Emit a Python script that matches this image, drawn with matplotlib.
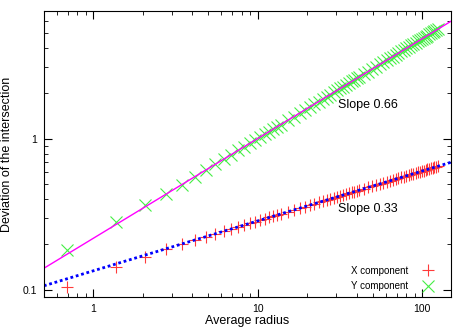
import numpy as np
import matplotlib
matplotlib.use("Agg")
import matplotlib.pyplot as plt
from matplotlib.ticker import LogLocator, NullFormatter, FixedLocator, FixedFormatter

plt.rcParams['font.family'] = ['Liberation Sans', 'DejaVu Sans']

# average radius of each sample
radius = [0.69, 1.38, 2.07, 2.76, 3.45, 4.14, 4.83, 5.52, 6.21, 6.90,
          7.59, 8.28, 8.97, 9.66, 10.35, 11.04, 11.73, 12.42, 13.11, 13.80,
          15.18, 16.56, 17.94, 19.32, 20.70, 22.08, 23.46, 24.84, 26.22, 27.60,
          28.98, 30.36, 31.74, 33.12, 34.50, 35.88, 37.26, 38.64, 40.02, 41.40,
          44.16, 46.92, 49.68, 52.44, 55.20, 57.96, 60.72, 63.48, 66.24, 69.00,
          71.76, 74.52, 77.28, 80.04, 82.80, 85.56, 88.32, 91.08, 93.84, 96.60,
          99.36, 102.12, 104.88, 107.64, 110.40, 113.16, 115.92, 118.68, 121.44, 124.20]

x_dev = [0.105, 0.143, 0.166, 0.187, 0.202, 0.214, 0.225, 0.236, 0.245, 0.254,
         0.262, 0.269, 0.276, 0.283, 0.290, 0.296, 0.302, 0.308, 0.313, 0.319,
         0.329, 0.338, 0.348, 0.356, 0.364, 0.372, 0.380, 0.387, 0.394, 0.401,
         0.407, 0.413, 0.420, 0.426, 0.431, 0.437, 0.442, 0.448, 0.453, 0.458,
         0.468, 0.477, 0.486, 0.495, 0.504, 0.512, 0.520, 0.527, 0.535, 0.542,
         0.549, 0.556, 0.563, 0.569, 0.576, 0.582, 0.588, 0.594, 0.600, 0.606,
         0.611, 0.617, 0.622, 0.628, 0.633, 0.638, 0.643, 0.648, 0.653, 0.658]

y_dev = [0.183, 0.280, 0.365, 0.430, 0.498, 0.562, 0.622, 0.679, 0.734, 0.787,
         0.838, 0.888, 0.936, 0.983, 1.029, 1.073, 1.117, 1.160, 1.202, 1.244,
         1.324, 1.403, 1.479, 1.553, 1.626, 1.696, 1.765, 1.833, 1.900, 1.965,
         2.030, 2.093, 2.155, 2.216, 2.277, 2.337, 2.396, 2.454, 2.511, 2.568,
         2.680, 2.790, 2.896, 3.001, 3.105, 3.206, 3.306, 3.406, 3.503, 3.598,
         3.693, 3.786, 3.877, 3.968, 4.057, 4.146, 4.235, 4.322, 4.407, 4.491,
         4.576, 4.660, 4.743, 4.826, 4.906, 4.988, 5.066, 5.145, 5.224, 5.302]

# power-law fits: prefactor, slope
fit_x = (0.134, 0.33)
fit_y = (0.22, 0.66)

fig = plt.figure(figsize=(4.67, 3.27), dpi=100)
ax = fig.add_axes([0.094, 0.092, 0.872, 0.874])

ax.plot(radius, x_dev, linestyle='none', marker='+', color='#ff3a3a',
        markersize=8, markeredgewidth=0.8, label='X component')
ax.plot(radius, y_dev, linestyle='none', marker='x', color='#44ee44',
        markersize=8, markeredgewidth=0.8, label='Y component')

xx = np.logspace(np.log10(0.5), np.log10(150), 200)
ax.plot(xx, fit_y[0] * xx ** fit_y[1], color='#ff00ff', lw=1.0)
ax.plot(xx, fit_x[0] * xx ** fit_x[1], color='#0000ff', lw=2.0, linestyle=(0, (1, 1)))

ax.set_xscale('log')
ax.set_yscale('log')
ax.set_xlim(0.5, 150)
ax.set_ylim(0.09, 7)

ax.xaxis.set_major_locator(FixedLocator([1, 10, 100]))
ax.xaxis.set_major_formatter(FixedFormatter(['1', '10', '100']))
ax.yaxis.set_major_locator(FixedLocator([0.1, 1]))
ax.yaxis.set_major_formatter(FixedFormatter(['0.1', '1']))
ax.xaxis.set_minor_locator(LogLocator(base=10, subs=np.arange(2, 10)))
ax.yaxis.set_minor_locator(LogLocator(base=10, subs=np.arange(2, 10)))
ax.xaxis.set_minor_formatter(NullFormatter())
ax.yaxis.set_minor_formatter(NullFormatter())
ax.tick_params(which='both', direction='in', top=True, right=True, labelsize=7.5)
ax.tick_params(which='major', length=6, pad=5)
ax.tick_params(which='minor', length=3)

ax.set_xlabel('Average radius', fontsize=9)
ax.set_ylabel('Deviation of the intersection', fontsize=9)
ax.xaxis.set_label_coords(0.5, -0.065)
ax.yaxis.set_label_coords(-0.076, 0.5)

ax.text(30.6, 1.68, 'Slope 0.66', fontsize=9, va='center')
ax.text(30.6, 0.342, 'Slope 0.33', fontsize=9, va='center')

ax.legend(loc='lower right', bbox_to_anchor=(0.961, 0.021), frameon=False,
          markerfirst=False, fontsize=7, handlelength=1.5, handletextpad=1.3,
          borderaxespad=0, borderpad=0, labelspacing=0.55)

fig.savefig('out.png', dpi=100)
